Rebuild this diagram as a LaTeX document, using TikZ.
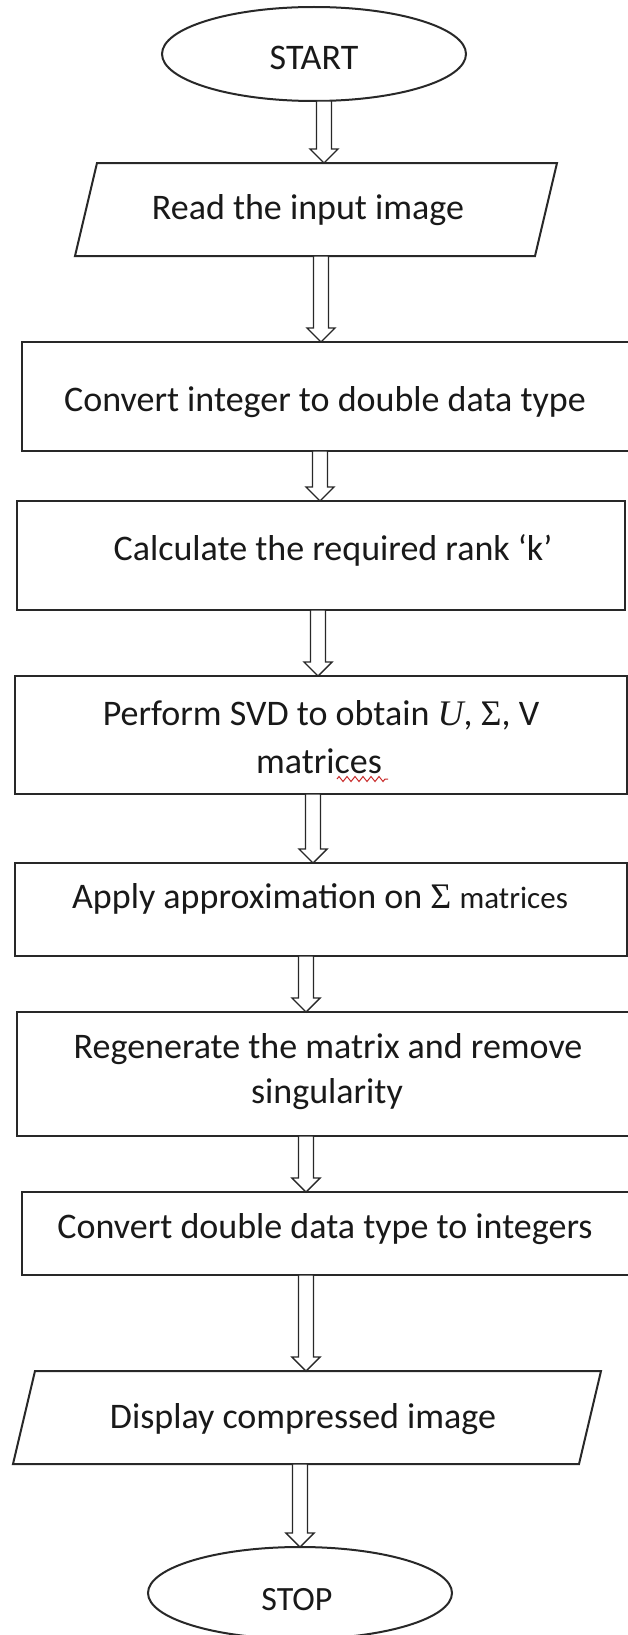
\documentclass[tikz,border=0pt]{standalone}
\usepackage{fontspec}
\setmainfont{Carlito}
\newfontfamily\serifmath{Liberation Serif}
\usetikzlibrary{shapes.geometric,calc,decorations.pathmorphing}
\definecolor{linec}{RGB}{40,40,40}
\definecolor{textc}{RGB}{25,25,25}
\definecolor{squig}{RGB}{200,40,40}
\newcommand\blockarrow[3]{%
  \draw[barrow] let \p1=(#1.south), \p2=(#2.north) in
    ({#3pt-7.5pt},\y1) -- ({#3pt-7.5pt},{\y2+14pt}) -- ({#3pt-14pt},{\y2+14pt})
    -- ({#3pt},\y2) -- ({#3pt+14pt},{\y2+14pt}) -- ({#3pt+7.5pt},{\y2+14pt})
    -- ({#3pt+7.5pt},\y1) -- cycle;}
\newcommand\parabox[2]{% node name, skew
  \draw[shapeline] ($(#1.north west)+(#2,0)$) -- (#1.north east)
    -- ($(#1.south east)+(-#2,0)$) -- (#1.south west) -- cycle;}
\begin{document}
\begin{tikzpicture}[x=1pt,y=-1pt,
  shapeline/.style={draw=linec, line width=2pt, fill=white, inner sep=0pt, outer sep=0pt},
  procbox/.style={shapeline, rectangle},
  termbox/.style={shapeline, ellipse},
  iobox/.style={rectangle, inner sep=0pt, outer sep=0pt},
  barrow/.style={draw=linec, line width=1.4pt, fill=white, line join=miter},
  lbl/.style={anchor=base, inner sep=0pt, text=textc, font=\fontsize{36pt}{44pt}\selectfont}]
\useasboundingbox (0,0) rectangle (628,1635);
\fill[white] (0,0) rectangle (628,1635);

% shapes
\node[termbox, minimum width=304pt, minimum height=94pt] (start) at (314,54) {};
\node[iobox, minimum width=482pt, minimum height=93pt] (read) at (316,209.5) {};
\parabox{read}{22}
\node[procbox, minimum width=610pt, minimum height=109pt] (conv1) at (327,396.5) {};
\node[procbox, minimum width=608pt, minimum height=109pt] (calc) at (321,555.5) {};
\node[procbox, minimum width=612pt, minimum height=118pt] (svd) at (321,735) {};
\node[procbox, minimum width=612pt, minimum height=93pt] (apply) at (321,909.5) {};
\node[procbox, minimum width=615pt, minimum height=124pt] (regen) at (324.5,1074) {};
\node[procbox, minimum width=610pt, minimum height=83pt] (conv2) at (327,1233.5) {};
\node[iobox, minimum width=588pt, minimum height=93pt] (disp) at (307,1417.5) {};
\parabox{disp}{22}
\node[termbox, minimum width=304pt, minimum height=92pt] (stop) at (300,1593) {};

% connectors
\blockarrow{start}{read}{324}
\blockarrow{read}{conv1}{321}
\blockarrow{conv1}{calc}{320}
\blockarrow{calc}{svd}{318}
\blockarrow{svd}{apply}{313}
\blockarrow{apply}{regen}{306}
\blockarrow{regen}{conv2}{306}
\blockarrow{conv2}{disp}{306}
\blockarrow{disp}{stop}{300}

% texts
\node[lbl] (tstart) at (314,70) {START};
\node[lbl] (tread) at (308,219) {Read the input image};
\node[lbl] (tconv1) at (325,411) {Convert integer to double data type};
\node[lbl] (tcalc) at (333,560) {Calculate the required rank ‘k’};
\node[lbl] (tsvd1) at (321,725) {Perform SVD to obtain {\serifmath\itshape U}, {\serifmath Σ}, V};
\node[lbl] (tsvd2) at (319,773) {matrices};
\node[lbl] (tapply) at (320,908) {Apply approximation on {\serifmath Σ} {\fontsize{31pt}{38pt}\selectfont matrices}};
\node[lbl] (tregen1) at (328,1058) {Regenerate the matrix and remove};
\node[lbl] (tregen2) at (327,1103) {singularity};
\node[lbl] (tconv2) at (325,1238) {Convert double data type to integers};
\node[lbl] (tdisp) at (303,1428) {Display compressed image};
\node[lbl, font=\fontsize{34pt}{40pt}\selectfont] (tstop) at (297,1610) {STOP};

% spell-check squiggle
\draw[squig, line width=1pt, decorate, decoration={zigzag, amplitude=2.5pt, segment length=8pt}] (337,779) -- (388,779);
\end{tikzpicture}
\end{document}
